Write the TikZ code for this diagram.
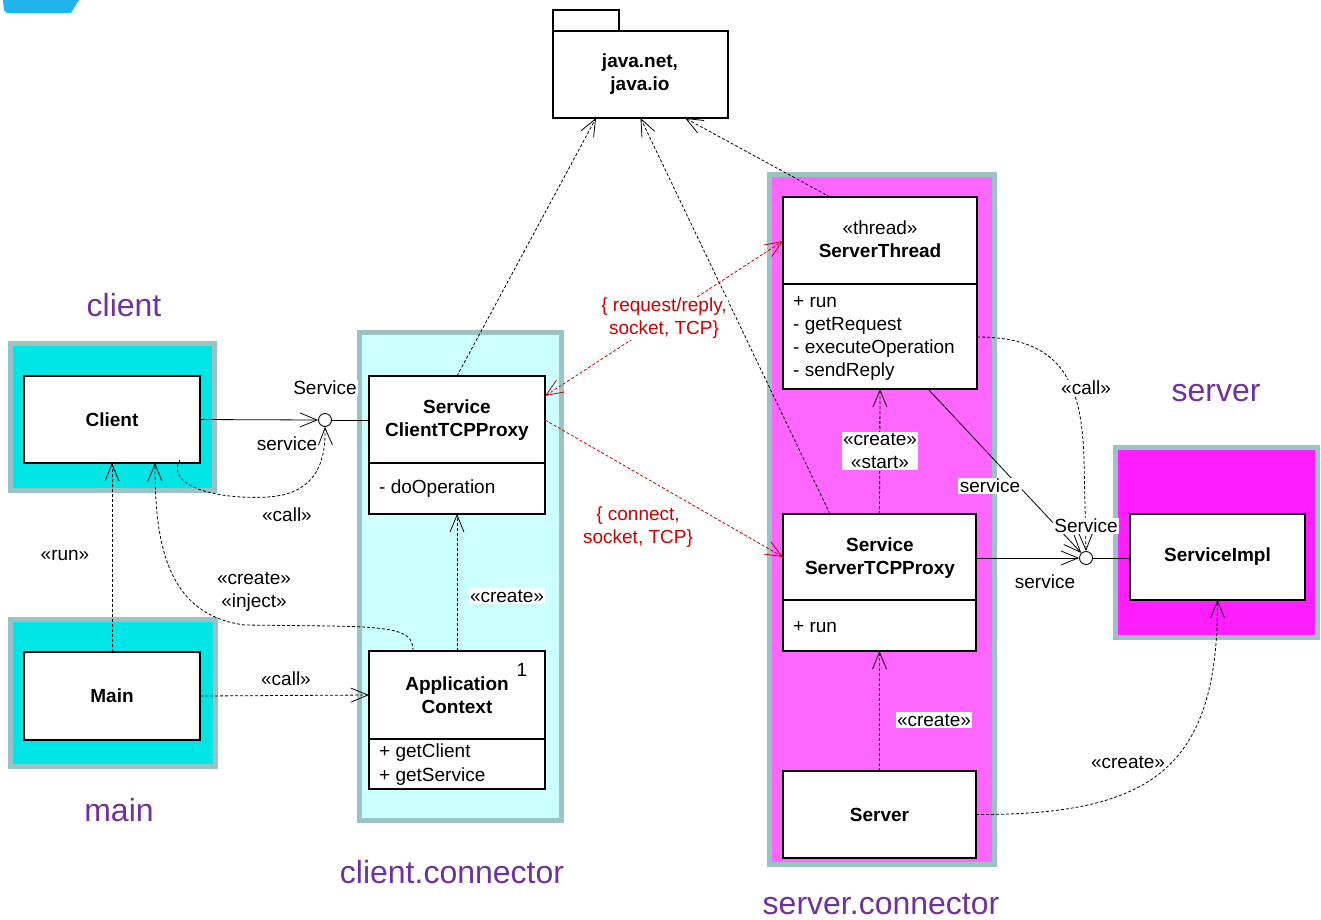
\documentclass[tikz,border=0pt]{standalone}
\usepackage{fontspec}
\setmainfont{Liberation Sans}
\usetikzlibrary{arrows.meta,calc}
\definecolor{pkgborder}{HTML}{9CC3C3}
\definecolor{cyanfill}{HTML}{00E6E6}
\definecolor{lightcyan}{HTML}{CCFFFF}
\definecolor{pinkfill}{HTML}{FF66FF}
\definecolor{magfill}{HTML}{FF1EFF}
\definecolor{titlepurple}{HTML}{7030A0}
\definecolor{netred}{HTML}{CC0000}
\definecolor{logoblue}{HTML}{20B4EC}
\tikzset{
  every node/.style={font=\fontsize{19}{23}\selectfont},
  cls/.style={draw, line width=1.3pt, fill=white, inner sep=0pt, outer sep=0pt, anchor=north west},
  pkgbox/.style={draw=pkgborder, line width=5pt},
  bold/.style={font=\fontsize{19}{23}\selectfont\bfseries, align=center},
  meth/.style={anchor=base west, inner sep=0pt},
  title/.style={text=titlepurple, font=\fontsize{32}{38}\selectfont},
  wlab/.style={fill=white, inner sep=1.5pt, align=center},
  plab/.style={inner sep=1pt, align=center},
  tip/.style={-{Straight Barb[length=17pt,width=14pt]}},
  dep/.style={line width=0.8pt, dash pattern=on 3pt off 2pt, tip},
  solidarr/.style={line width=0.8pt, tip},
  reddep/.style={line width=0.8pt, dash pattern=on 3pt off 2pt, draw=netred},
  lolli/.style={circle, draw, line width=0.9pt, fill=white, minimum size=13pt, inner sep=0pt}
}
\begin{document}
\begin{tikzpicture}[x=1pt,y=-1pt]
\useasboundingbox (0,0) rectangle (1321,919);

% logo fragment
\fill[logoblue] (3,0) -- (79,0) -- (71,13) -- (7,13) -- (4,10) -- cycle;

% packages
\draw[pkgbox, fill=cyanfill] (10,343) rectangle (214,490);
\draw[pkgbox, fill=cyanfill] (10,619) rectangle (215,766);
\draw[pkgbox, fill=lightcyan] (359,332) rectangle (561,820);
\draw[pkgbox, fill=pinkfill] (769,174) rectangle (994,864);
\draw[pkgbox, fill=magfill] (1115,447) rectangle (1317,637);

% titles
\node[title] (tclient) at (124,305) {client};
\node[title] (tmain) at (119,810) {main};
\node[title] (tcc) at (452,872) {client.connector};
\node[title] (tsc) at (881,904) {server.connector};
\node[title] (tserver) at (1216,393) {server};

% java package
\node[cls, minimum width=66pt, minimum height=21pt] (pkgtab) at (553,10) {};
\node[cls, minimum width=175pt, minimum height=87pt] (pkg) at (553,31) {};
\node[bold] (pkgT) at (640,74) {java.net,\\java.io};

% classes
\node[cls, minimum width=176pt, minimum height=87pt] (client) at (24,376) {};
\node[bold] (clientT) at (client.center) {Client};

\node[cls, minimum width=176pt, minimum height=88pt] (main) at (24,652) {};
\node[bold] (mainT) at (main.center) {Main};

\node[cls, minimum width=176pt, minimum height=138pt] (sctp) at (369,376) {};
\draw[line width=1.3pt] ($(sctp.north west)+(0,87)$) -- ($(sctp.north east)+(0,87)$);
\node[bold] (sctpT) at (457,420) {Service\\ClientTCPProxy};
\node[meth] (sctpM) at (379,493) {- doOperation};

\node[cls, minimum width=176pt, minimum height=138pt] (ac) at (369,651) {};
\draw[line width=1.3pt] ($(ac.north west)+(0,88)$) -- ($(ac.north east)+(0,88)$);
\node[bold] (acT) at (457,695) {Application\\Context};
\node[inner sep=0pt] (acOne) at (522,670) {1};
\node[meth] (acM1) at (379,757) {+ getClient};
\node[meth] (acM2) at (379,781) {+ getService};

\node[cls, minimum width=194pt, minimum height=192pt] (st) at (783,197) {};
\draw[line width=1.3pt] ($(st.north west)+(0,87)$) -- ($(st.north east)+(0,87)$);
\node[inner sep=0pt] (stS) at (880,228) {«thread»};
\node[bold, inner sep=0pt] (stT) at (880,251) {ServerThread};
\node[meth] (stM1) at (793,307) {+ run};
\node[meth] (stM2) at (793,330) {- getRequest};
\node[meth] (stM3) at (793,353) {- executeOperation};
\node[meth] (stM4) at (793,376) {- sendReply};

\node[cls, minimum width=193pt, minimum height=137pt] (sstp) at (783,514) {};
\draw[line width=1.3pt] ($(sstp.north west)+(0,86)$) -- ($(sstp.north east)+(0,86)$);
\node[bold] (sstpT) at (880,558) {Service\\ServerTCPProxy};
\node[meth] (sstpM) at (793,632) {+ run};

\node[cls, minimum width=193pt, minimum height=87pt] (server) at (783,771) {};
\node[bold] (serverT) at (server.center) {Server};

\node[cls, minimum width=175pt, minimum height=86pt] (simpl) at (1130,514) {};
\node[bold] (simplT) at (simpl.center) {ServiceImpl};

% lollipops
\node[lolli] (lolc) at (325,420) {};
\node[lolli] (lols) at (1086,558) {};

% client side interface
\draw[solidarr] (client.east) -- (lolc.west);
\draw[line width=0.8pt] (lolc.east) -- (lolc.east -| sctp.west);
\node[wlab] (lcS) at (325,388) {Service};
\node[plab] (lcs) at (287,444) {service};
\coordinate (ccall) at (180,460);
\draw[dep] (ccall) .. controls (165,485) and (215,500) .. (268,497) .. controls (310,494) and (326,470) .. (lolc.south);
\node[plab] (lccall) at (287,515) {«call»};

% main / client
\draw[dep] (main.north) -- (client.south);
\node[plab] (lrun) at (65,555) {«run»};
\coordinate (accr) at ($(ac.north west)+(44,0)$);
\coordinate (clin) at ($(client.south west)+(131,0)$);
\draw[dep] (accr) .. controls (413,632) and (400,627) .. (330,626) -- (245,625) .. controls (165,615) and (155,540) .. (clin);
\node[plab] (lci) at (254,592) {«create»\\«inject»};
\draw[dep] (main.east) -- ($(ac.north west)+(0,44)$);
\node[plab] (lmcall) at (286,679) {«call»};
\draw[dep] (ac.north) -- (sctp.south);
\node[wlab] (lacc) at (507,596) {«create»};

% to java package
\draw[dep] (sctp.north) -- ($(pkg.south west)+(43,0)$);
\draw[dep] ($(sstp.north west)+(47,0)$) -- (pkg.south);
\draw[dep] ($(st.north west)+(47,0)$) -- ($(pkg.south west)+(132,0)$);

% red network connectors
\draw[reddep, {Straight Barb[length=17pt,width=14pt]}-{Straight Barb[length=17pt,width=14pt]}] ($(sctp.north east)+(0,20)$) -- ($(st.north west)+(0,44)$)
  node[midway, wlab, text=netred] (lrr) {\{ request/reply,\\socket, TCP\}};
\draw[reddep, -{Straight Barb[length=17pt,width=14pt]}] ($(sctp.north east)+(0,44)$) -- ($(sstp.north west)+(0,43)$);
\node[plab, text=netred] (lconn) at (638,527) {\{ connect,\\socket, TCP\}};

% server connector internals
\draw[dep] (sstp.north) -- (st.south);
\node[wlab] (lcs2) at (880,451) {«create»\\«start»};
\draw[dep] (server.north) -- (sstp.south);
\node[wlab] (lsc) at (934,720) {«create»};

% server side interface
\draw[solidarr] (sstp.east |- lols) -- (lols.west);
\draw[line width=0.8pt] (lols.east) -- (lols.east -| simpl.west);
\draw[solidarr] ($(st.south west)+(145,0)$) -- (lols);
\coordinate (stcall) at ($(st.north east)+(0,140)$);
\draw[dep] (stcall) .. controls (1060,337) and (1082,380) .. (1084,460) -- (lols.north);
\node[plab, fill=white] (lstcall) at (1086,388) {«call»};
\node[wlab] (lsvc1) at (990,486) {service};
\node[wlab] (lsS) at (1086,526) {Service};
\node[plab] (lsvc2) at (1045,582) {service};

\draw[dep] (server.east) .. controls (1150,815) and (1218,770) .. (simpl.south);
\node[plab] (lsic) at (1128,762) {«create»};
\end{tikzpicture}
\end{document}
